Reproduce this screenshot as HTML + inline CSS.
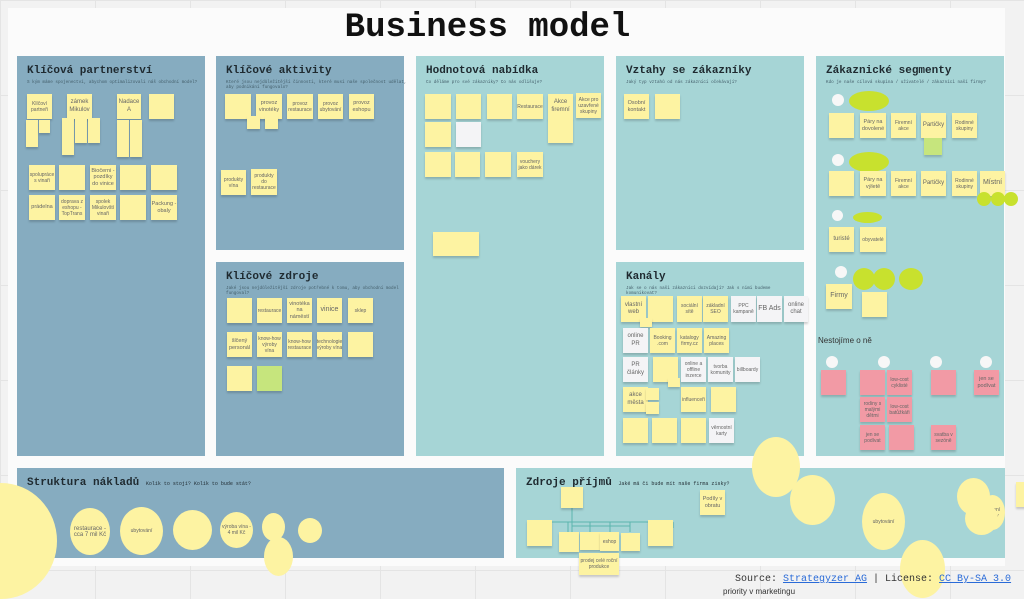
<!DOCTYPE html>
<html><head><meta charset="utf-8"><style>
*{margin:0;padding:0;box-sizing:border-box}
body{width:1024px;height:596px;overflow:hidden;position:relative;background:#f2f2f2;font-family:"Liberation Sans",sans-serif;
background-image:linear-gradient(#e4e4e4 1px,transparent 1px),linear-gradient(90deg,#e4e4e4 1px,transparent 1px);background-size:95px 95px}
.a{position:absolute}
.board{position:absolute;left:8px;top:8px;width:997px;height:558px;background:#fbfbfb}
.p{position:absolute}
.b{background:#86acc0}.t{background:#a6d5d6}
.h{position:absolute;left:10px;top:9px;font:bold 11px "Liberation Mono",monospace;color:#1f2a30;white-space:nowrap}
.q{position:absolute;left:10px;top:24px;font:4.3px "Liberation Mono",monospace;color:#45606c;white-space:nowrap}
.s{position:absolute;background:#fdf3a2;box-shadow:0 2px 2px rgba(0,0,0,.18);font-size:5px;color:#666;display:flex;align-items:center;justify-content:center;text-align:center;line-height:1.2;overflow:hidden}
.w{background:#f4f4f6}.k{background:#f29aa5}.g{background:#c6e57d}
.c{position:absolute;border-radius:50%;background:#fdf3a2;font-size:5px;color:#666;display:flex;align-items:center;justify-content:center;text-align:center}
.wc{position:absolute;border-radius:50%;background:#f7f7f7}
.ge{position:absolute;border-radius:50%;background:#c8e12e;font-size:3px;color:#556}
</style></head><body>
<div class="board"></div>
<div class="a" style="left:0;top:9px;width:975px;text-align:center;font:bold 34px 'Liberation Mono',monospace;color:#111">Business model</div>

<div class="p b" style="left:17px;top:56px;width:188px;height:400px"><div class="h">Klíčová partnerství</div><div class="q">S kým máme spojenectví, abychom optimalizovali náš obchodní model?</div></div>
<div class="p b" style="left:216px;top:56px;width:188px;height:194px"><div class="h">Klíčové aktivity</div><div class="q">Které jsou nejdůležitější činnosti, které musí naše společnost udělat,<br>aby podnikání fungovalo?</div></div>
<div class="p b" style="left:216px;top:262px;width:188px;height:194px"><div class="h">Klíčové zdroje</div><div class="q">Jaké jsou nejdůležitější zdroje potřebné k tomu, aby obchodní model<br>fungoval?</div></div>
<div class="p t" style="left:416px;top:56px;width:188px;height:400px"><div class="h">Hodnotová nabídka</div><div class="q">Co děláme pro své zákazníky? Co nás odlišuje?</div></div>
<div class="p t" style="left:616px;top:56px;width:188px;height:194px"><div class="h">Vztahy se zákazníky</div><div class="q">Jaký typ vztahů od nás zákazníci očekávají?</div></div>
<div class="p t" style="left:616px;top:262px;width:188px;height:194px"><div class="h">Kanály</div><div class="q">Jak se o nás naši zákazníci dozvídají? Jak s nimi budeme<br>komunikovat?</div></div>
<div class="p t" style="left:816px;top:56px;width:188px;height:400px"><div class="h">Zákaznické segmenty</div><div class="q">Kdo je naše cílová skupina / uživatelé / zákazníci naší firmy?</div></div>
<div class="p b" style="left:17px;top:468px;width:487px;height:90px"><div class="h">Struktura nákladů <span style="font-size:5px;font-weight:normal">Kolik to stojí? Kolik to bude stát?</span></div></div>
<div class="p t" style="left:516px;top:468px;width:489px;height:90px"><div class="h">Zdroje příjmů <span style="font-size:5px;font-weight:normal">Jaké má či bude mít naše firma zisky?</span></div></div>

<!-- partnerships -->
<div class="s" style="left:27px;top:94px;width:25px;height:25px">Klíčoví partneři</div>
<div class="s" style="left:67px;top:94px;width:25px;height:25px;font-size:6px">zámek Mikulov</div>
<div class="s" style="left:117px;top:94px;width:24px;height:25px;font-size:6px">Nadace A</div>
<div class="s" style="left:149px;top:94px;width:25px;height:25px"></div>
<div class="s" style="left:26px;top:120px;width:12px;height:27px"></div>
<div class="s" style="left:39px;top:120px;width:11px;height:13px"></div>
<div class="s" style="left:62px;top:118px;width:12px;height:37px"></div>
<div class="s" style="left:75px;top:118px;width:12px;height:25px"></div>
<div class="s" style="left:88px;top:118px;width:12px;height:25px"></div>
<div class="s" style="left:117px;top:120px;width:12px;height:37px"></div>
<div class="s" style="left:130px;top:120px;width:12px;height:37px"></div>
<div class="s" style="left:29px;top:165px;width:26px;height:25px">spolupráce s vinaři</div>
<div class="s" style="left:59px;top:165px;width:26px;height:25px"></div>
<div class="s" style="left:90px;top:165px;width:26px;height:25px;font-size:5.5px">Biočerni - pozdíky do vinice</div>
<div class="s" style="left:120px;top:165px;width:26px;height:25px"></div>
<div class="s" style="left:151px;top:165px;width:26px;height:25px"></div>
<div class="s" style="left:29px;top:195px;width:26px;height:25px;font-size:5.5px">prádelna</div>
<div class="s" style="left:59px;top:195px;width:26px;height:25px">doprava z eshopu - TopTrans</div>
<div class="s" style="left:90px;top:195px;width:26px;height:25px">spolek Mikulovští vinaři</div>
<div class="s" style="left:120px;top:195px;width:26px;height:25px"></div>
<div class="s" style="left:151px;top:195px;width:26px;height:25px;font-size:5.5px">Packung - obaly</div>

<!-- activities -->
<div class="s" style="left:225px;top:94px;width:26px;height:25px"></div>
<div class="s" style="left:256px;top:94px;width:26px;height:25px;font-size:5.5px">provoz vinotéky</div>
<div class="s" style="left:287px;top:94px;width:26px;height:25px">provoz restaurace</div>
<div class="s" style="left:318px;top:94px;width:25px;height:25px">provoz ubytování</div>
<div class="s" style="left:349px;top:94px;width:25px;height:25px;font-size:5.5px">provoz eshopu</div>
<div class="s" style="left:247px;top:116px;width:13px;height:13px"></div>
<div class="s" style="left:265px;top:116px;width:13px;height:13px"></div>
<div class="s" style="left:221px;top:170px;width:25px;height:25px">produkty vína</div>
<div class="s" style="left:251px;top:169px;width:26px;height:26px">produkty do restaurace</div>

<!-- resources -->
<div class="s" style="left:227px;top:298px;width:25px;height:25px"></div>
<div class="s" style="left:257px;top:298px;width:25px;height:25px">restaurace</div>
<div class="s" style="left:287px;top:298px;width:25px;height:25px;font-size:5.5px">vinotéka na náměstí</div>
<div class="s" style="left:317px;top:298px;width:25px;height:25px;font-size:7px">vinice</div>
<div class="s" style="left:348px;top:298px;width:25px;height:25px">sklep</div>
<div class="s" style="left:227px;top:332px;width:25px;height:25px;font-size:5.5px">šlčený personál</div>
<div class="s" style="left:257px;top:332px;width:25px;height:25px">know-how výroby vína</div>
<div class="s" style="left:287px;top:332px;width:25px;height:25px">know-how restaurace</div>
<div class="s" style="left:317px;top:332px;width:25px;height:25px">technologie výroby vína</div>
<div class="s" style="left:348px;top:332px;width:25px;height:25px"></div>
<div class="s" style="left:227px;top:366px;width:25px;height:25px"></div>
<div class="s g" style="left:257px;top:366px;width:25px;height:25px"></div>

<!-- value -->
<div class="s" style="left:425px;top:94px;width:26px;height:25px"></div>
<div class="s" style="left:456px;top:94px;width:25px;height:25px"></div>
<div class="s" style="left:487px;top:94px;width:25px;height:25px"></div>
<div class="s" style="left:517px;top:94px;width:26px;height:25px">Restaurace</div>
<div class="s" style="left:548px;top:94px;width:25px;height:25px;font-size:6px">Akce firemní</div>
<div class="s" style="left:576px;top:93px;width:25px;height:25px">Akce pro uzavřené skupiny</div>
<div class="s" style="left:425px;top:122px;width:26px;height:25px"></div>
<div class="s w" style="left:456px;top:122px;width:25px;height:25px"></div>
<div class="s" style="left:548px;top:118px;width:25px;height:25px"></div>
<div class="s" style="left:425px;top:152px;width:26px;height:25px"></div>
<div class="s" style="left:455px;top:152px;width:25px;height:25px"></div>
<div class="s" style="left:485px;top:152px;width:26px;height:25px"></div>
<div class="s" style="left:517px;top:152px;width:26px;height:25px">vouchery jako dárek</div>
<div class="s" style="left:433px;top:232px;width:46px;height:24px"></div>

<!-- relations -->
<div class="s" style="left:624px;top:94px;width:25px;height:25px;font-size:5.5px">Osobní kontakt</div>
<div class="s" style="left:655px;top:94px;width:25px;height:25px"></div>

<!-- channels -->
<div class="s" style="left:621px;top:296px;width:25px;height:26px;font-size:6px">vlastní web</div>
<div class="s" style="left:648px;top:296px;width:25px;height:26px"></div>
<div class="s" style="left:640px;top:318px;width:12px;height:9px"></div>
<div class="s" style="left:677px;top:296px;width:25px;height:26px">sociální sítě</div>
<div class="s" style="left:703px;top:296px;width:25px;height:26px">základní SEO</div>
<div class="s w" style="left:731px;top:296px;width:25px;height:26px">PPC kampaně</div>
<div class="s w" style="left:757px;top:296px;width:25px;height:26px;font-size:7px">FB Ads</div>
<div class="s w" style="left:784px;top:296px;width:24px;height:26px;font-size:6px">online chat</div>
<div class="s w" style="left:623px;top:328px;width:25px;height:25px;font-size:6px">online PR</div>
<div class="s" style="left:650px;top:328px;width:25px;height:25px">Booking .com</div>
<div class="s" style="left:677px;top:328px;width:25px;height:25px">katalogy firmy.cz</div>
<div class="s" style="left:704px;top:328px;width:25px;height:25px">Amazing places</div>
<div class="s w" style="left:623px;top:357px;width:25px;height:25px;font-size:6px">PR články</div>
<div class="s" style="left:653px;top:357px;width:25px;height:25px"></div>
<div class="s" style="left:668px;top:378px;width:12px;height:9px"></div>
<div class="s w" style="left:681px;top:357px;width:25px;height:25px">online a offline inzerce</div>
<div class="s w" style="left:708px;top:357px;width:25px;height:25px">tvorba komunity</div>
<div class="s w" style="left:735px;top:357px;width:25px;height:25px">billboardy</div>
<div class="s" style="left:623px;top:387px;width:25px;height:25px;font-size:6px">akce města</div>
<div class="s" style="left:646px;top:388px;width:13px;height:12px"></div>
<div class="s" style="left:646px;top:402px;width:13px;height:12px"></div>
<div class="s" style="left:681px;top:387px;width:25px;height:25px">influenceři</div>
<div class="s" style="left:711px;top:387px;width:25px;height:25px"></div>
<div class="s" style="left:623px;top:418px;width:25px;height:25px"></div>
<div class="s" style="left:652px;top:418px;width:25px;height:25px"></div>
<div class="s" style="left:681px;top:418px;width:25px;height:25px"></div>
<div class="s w" style="left:709px;top:418px;width:25px;height:25px">věrnostní karty</div>

<!-- segments -->
<div class="wc" style="left:832px;top:94px;width:12px;height:12px"></div>
<div class="ge" style="left:849px;top:91px;width:40px;height:20px"></div>
<div class="s" style="left:829px;top:113px;width:25px;height:25px"></div>
<div class="s" style="left:860px;top:113px;width:26px;height:25px;font-size:5.5px">Páry na dovolené</div>
<div class="s" style="left:891px;top:113px;width:25px;height:25px">Firemní akce</div>
<div class="s" style="left:921px;top:113px;width:25px;height:25px;font-size:6px">Partičky</div>
<div class="s" style="left:952px;top:113px;width:25px;height:25px">Rodinné skupiny</div>
<div class="s g" style="left:924px;top:138px;width:18px;height:17px"></div>
<div class="wc" style="left:832px;top:154px;width:12px;height:12px"></div>
<div class="ge" style="left:849px;top:152px;width:40px;height:20px"></div>
<div class="s" style="left:829px;top:171px;width:25px;height:25px"></div>
<div class="s" style="left:860px;top:171px;width:26px;height:25px;font-size:5.5px">Páry na výletě</div>
<div class="s" style="left:891px;top:171px;width:25px;height:25px">Firemní akce</div>
<div class="s" style="left:921px;top:171px;width:25px;height:25px;font-size:6px">Partičky</div>
<div class="s" style="left:952px;top:171px;width:25px;height:25px">Rodinné skupiny</div>
<div class="s" style="left:980px;top:171px;width:25px;height:25px;font-size:7px">Místní</div>
<div class="ge" style="left:977px;top:192px;width:14px;height:14px"></div>
<div class="ge" style="left:991px;top:192px;width:14px;height:14px"></div>
<div class="ge" style="left:1004px;top:192px;width:14px;height:14px"></div>
<div class="wc" style="left:832px;top:210px;width:11px;height:11px"></div>
<div class="ge" style="left:853px;top:212px;width:29px;height:11px"></div>
<div class="s" style="left:829px;top:227px;width:25px;height:25px;font-size:6px">turisté</div>
<div class="s" style="left:860px;top:227px;width:26px;height:25px">obyvatelé</div>
<div class="wc" style="left:835px;top:266px;width:12px;height:12px"></div>
<div class="ge" style="left:853px;top:268px;width:22px;height:22px"></div>
<div class="ge" style="left:873px;top:268px;width:22px;height:22px"></div>
<div class="ge" style="left:899px;top:268px;width:24px;height:22px"></div>
<div class="s" style="left:826px;top:284px;width:26px;height:25px;font-size:7px">Firmy</div>
<div class="s" style="left:862px;top:292px;width:25px;height:25px"></div>
<div class="a" style="left:818px;top:336px;font-size:8px;color:#333">Nestojíme o ně</div>
<div class="wc" style="left:826px;top:356px;width:12px;height:12px"></div>
<div class="wc" style="left:878px;top:356px;width:12px;height:12px"></div>
<div class="wc" style="left:930px;top:356px;width:12px;height:12px"></div>
<div class="wc" style="left:980px;top:356px;width:12px;height:12px"></div>
<div class="s k" style="left:821px;top:370px;width:25px;height:25px"></div>
<div class="s k" style="left:860px;top:370px;width:25px;height:25px"></div>
<div class="s k" style="left:887px;top:370px;width:25px;height:25px">low-cost cyklisté</div>
<div class="s k" style="left:931px;top:370px;width:25px;height:25px"></div>
<div class="s k" style="left:974px;top:370px;width:25px;height:25px;font-size:5.5px">jen se podívat</div>
<div class="s k" style="left:860px;top:397px;width:25px;height:25px">rodiny s malými dětmi</div>
<div class="s k" style="left:887px;top:397px;width:25px;height:25px">low-cost batůžkáři</div>
<div class="s k" style="left:860px;top:425px;width:25px;height:25px">jen se podívat</div>
<div class="s k" style="left:889px;top:425px;width:25px;height:25px"></div>
<div class="s k" style="left:931px;top:425px;width:25px;height:25px">svatba v sezóně</div>

<!-- cost -->
<div class="c" style="left:-55px;top:483px;width:112px;height:116px"></div>
<div class="c" style="left:70px;top:508px;width:40px;height:47px;font-size:6px">restaurace - cca 7 mil Kč</div>
<div class="c" style="left:120px;top:507px;width:43px;height:48px">ubytování</div>
<div class="c" style="left:173px;top:510px;width:39px;height:40px"></div>
<div class="c" style="left:220px;top:512px;width:33px;height:36px">výroba vína - 4 mil Kč</div>
<div class="c" style="left:262px;top:513px;width:23px;height:28px"></div>
<div class="c" style="left:298px;top:518px;width:24px;height:25px"></div>
<div class="c" style="left:264px;top:537px;width:29px;height:39px"></div>

<!-- revenue -->
<svg class="a" style="left:0;top:0" width="1024" height="596"><g stroke="#5cb5ae" stroke-width="1" fill="none">
<path d="M572 508V522M540 522H673M540 522V528M673 522V528M572 522V532M568 522V532M590 522V532M610 522V532M630 522V532M572 526H630"/></g></svg>
<div class="s" style="left:561px;top:487px;width:22px;height:21px"></div>
<div class="s" style="left:527px;top:520px;width:25px;height:26px"></div>
<div class="s" style="left:559px;top:532px;width:20px;height:20px"></div>
<div class="s" style="left:580px;top:532px;width:20px;height:18px"></div>
<div class="s" style="left:600px;top:532px;width:19px;height:19px">eshop</div>
<div class="s" style="left:621px;top:533px;width:19px;height:18px"></div>
<div class="s" style="left:648px;top:520px;width:25px;height:26px"></div>
<div class="s" style="left:579px;top:553px;width:40px;height:22px">prodej celé roční produkce</div>
<div class="s" style="left:700px;top:490px;width:25px;height:25px;font-size:5.5px">Podíly v obratu</div>
<div class="c" style="left:752px;top:437px;width:48px;height:60px"></div>
<div class="c" style="left:790px;top:475px;width:45px;height:50px"></div>
<div class="c" style="left:862px;top:493px;width:43px;height:57px">ubytování</div>
<div class="c" style="left:900px;top:540px;width:45px;height:58px"></div>
<div class="c" style="left:957px;top:478px;width:33px;height:37px"></div>
<div class="c" style="left:980px;top:495px;width:25px;height:35px">firemní dárky</div>
<div class="c" style="left:965px;top:502px;width:33px;height:33px"></div>
<div class="s" style="left:1016px;top:482px;width:10px;height:25px"></div>

<div class="a" style="left:735px;top:574px;font:10px 'Liberation Mono',monospace;color:#333;white-space:nowrap">Source: <span style="color:#2a6bd8;text-decoration:underline">Strategyzer AG</span> | License: <span style="color:#2a6bd8;text-decoration:underline">CC By-SA 3.0</span></div>
<div class="a" style="left:723px;top:587px;font-size:8px;color:#333">priority v marketingu</div>
</body></html>
